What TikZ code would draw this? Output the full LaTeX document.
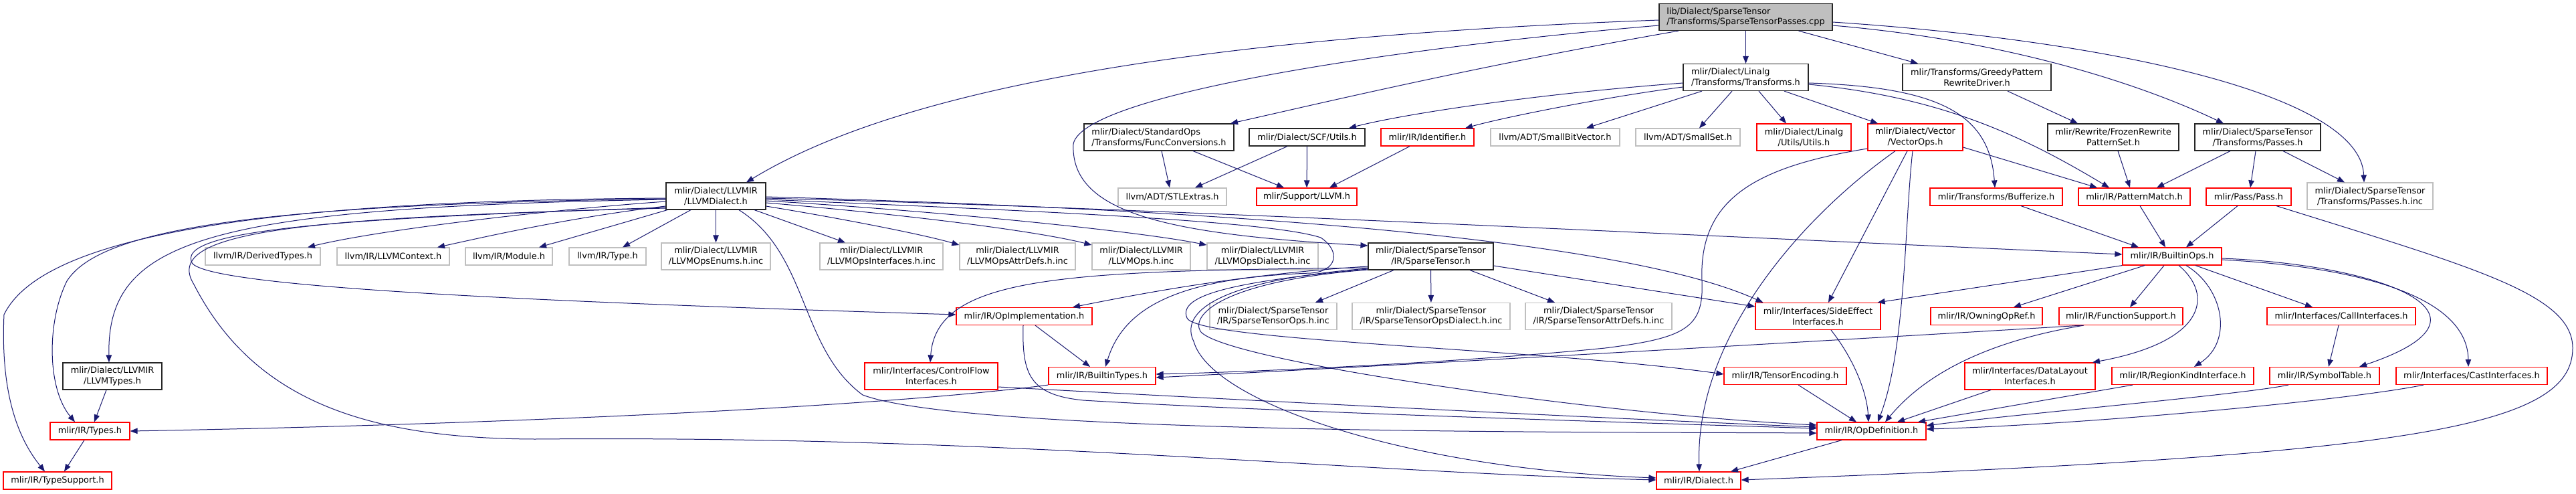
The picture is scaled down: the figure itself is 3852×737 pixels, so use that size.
\documentclass[tikz,border=0pt]{standalone}
\usepackage{fontspec}
\setmainfont{DejaVu Sans}
\usetikzlibrary{arrows.meta}
\definecolor{edgeblue}{HTML}{191970}
\definecolor{boxgray}{HTML}{BFBFBF}
\definecolor{boxred}{HTML}{FF0000}
\newcommand{\gfont}{\fontsize{12.9}{15.7}\selectfont}
\begin{document}
\begin{tikzpicture}[x=1pt,y=-1pt,
 every node/.style={font=\gfont,inner sep=0pt,minimum height=26pt,align=center,line width=1.2pt},
 hblack/.style={draw=black!85},hred/.style={draw=boxred},hgray/.style={draw=boxgray},
 hmain/.style={draw=black!85,fill=boxgray},two/.style={minimum height=40pt},
 inc/.style={-{Triangle[length=11pt,width=8.5pt]},edgeblue,line width=1pt}]
\fill[white] (0,0) rectangle (3852,737);
% files
\node[hmain,two,align=left,minimum width=259pt] (cpp) at (2610.5,25.5) {lib/Dialect/SparseTensor\\/Transforms/SparseTensorPasses.cpp};
\node[hblack,two,align=left,minimum width=187pt] (lintr) at (2610.5,115.5) {mlir/Dialect/Linalg\\/Transforms/Transforms.h};
\node[hblack,two,minimum width=222pt] (greedy) at (2956,115.5) {mlir/Transforms/GreedyPattern\\RewriteDriver.h};
\node[hblack,two,align=left,minimum width=224pt] (fconv) at (1733,205) {mlir/Dialect/StandardOps\\/Transforms/FuncConversions.h};
\node[hblack,minimum width=173pt] (scf) at (1954.5,205) {mlir/Dialect/SCF/Utils.h};
\node[hred,minimum width=139pt] (ident) at (2134.5,205) {mlir/IR/Identifier.h};
\node[hgray,minimum width=193pt] (sbv) at (2325.5,205) {llvm/ADT/SmallBitVector.h};
\node[hgray,minimum width=156pt] (sset) at (2524,205) {llvm/ADT/SmallSet.h};
\node[hred,two,minimum width=141pt] (linut) at (2697.5,205) {mlir/Dialect/Linalg\\/Utils/Utils.h};
\node[hred,two,minimum width=142pt] (vops) at (2864,205) {mlir/Dialect/Vector\\/VectorOps.h};
\node[hblack,two,minimum width=196pt] (frozen) at (3160,205) {mlir/Rewrite/FrozenRewrite\\PatternSet.h};
\node[hblack,two,minimum width=188pt] (spass) at (3376,205) {mlir/Dialect/SparseTensor\\/Transforms/Passes.h};
\node[hblack,two,minimum width=149pt] (llvmd) at (1070.5,293) {mlir/Dialect/LLVMIR\\/LLVMDialect.h};
\node[hgray,minimum width=162pt] (stl) at (1753,294) {llvm/ADT/STLExtras.h};
\node[hred,minimum width=150pt] (supp) at (1954,294) {mlir/Support/LLVM.h};
\node[hred,minimum width=198pt] (buff) at (2985,294) {mlir/Transforms/Bufferize.h};
\node[hred,minimum width=167pt] (patm) at (3191.5,294) {mlir/IR/PatternMatch.h};
\node[hred,minimum width=127pt] (pass) at (3362.5,294) {mlir/Pass/Pass.h};
\node[hgray,two,minimum width=188pt] (passinc) at (3544,293) {mlir/Dialect/SparseTensor\\/Transforms/Passes.h.inc};
\node[hgray,minimum width=172pt] (dtypes) at (393,383) {llvm/IR/DerivedTypes.h};
\node[hgray,minimum width=168pt] (lctx) at (588,383) {llvm/IR/LLVMContext.h};
\node[hgray,minimum width=130pt] (modl) at (761,383) {llvm/IR/Module.h};
\node[hgray,minimum width=115pt] (ltype) at (908.5,383) {llvm/IR/Type.h};
\node[hgray,two,minimum width=163pt] (openums) at (1070.5,383) {mlir/Dialect/LLVMIR\\/LLVMOpsEnums.h.inc};
\node[hgray,two,minimum width=184pt] (opsif) at (1318,383) {mlir/Dialect/LLVMIR\\/LLVMOpsInterfaces.h.inc};
\node[hgray,two,minimum width=173pt] (opsattr) at (1521.5,383) {mlir/Dialect/LLVMIR\\/LLVMOpsAttrDefs.h.inc};
\node[hgray,two,minimum width=147pt] (opsinc) at (1706.5,383) {mlir/Dialect/LLVMIR\\/LLVMOps.h.inc};
\node[hgray,two,minimum width=166pt] (opsdial) at (1888,383) {mlir/Dialect/LLVMIR\\/LLVMOpsDialect.h.inc};
\node[hblack,two,minimum width=187pt] (sptens) at (2139.5,383) {mlir/Dialect/SparseTensor\\/IR/SparseTensor.h};
\node[hred,minimum width=148pt] (bops) at (3248,383) {mlir/IR/BuiltinOps.h};
\node[hred,minimum width=203pt] (opimpl) at (1531.5,472.5) {mlir/IR/OpImplementation.h};
\node[hgray,two,minimum width=190pt] (spops) at (1904,472.5) {mlir/Dialect/SparseTensor\\/IR/SparseTensorOps.h.inc};
\node[hgray,two,minimum width=236pt] (spdial) at (2140,472.5) {mlir/Dialect/SparseTensor\\/IR/SparseTensorOpsDialect.h.inc};
\node[hgray,two,minimum width=219pt] (spattr) at (2390.5,472.5) {mlir/Dialect/SparseTensor\\/IR/SparseTensorAttrDefs.h.inc};
\node[hred,two,minimum width=187pt] (sidefx) at (2718.5,472.5) {mlir/Interfaces/SideEffect\\Interfaces.h};
\node[hred,minimum width=167pt] (owning) at (2970.5,472.5) {mlir/IR/OwningOpRef.h};
\node[hred,minimum width=185pt] (funcsup) at (3171.5,472.5) {mlir/IR/FunctionSupport.h};
\node[hred,minimum width=222pt] (callif) at (3501,472.5) {mlir/Interfaces/CallInterfaces.h};
\node[hblack,two,minimum width=148pt] (llvmty) at (168,562) {mlir/Dialect/LLVMIR\\/LLVMTypes.h};
\node[hred,two,minimum width=199pt] (ctlflow) at (1392.5,562) {mlir/Interfaces/ControlFlow\\Interfaces.h};
\node[hred,minimum width=160pt] (btypes) at (1648,561.5) {mlir/IR/BuiltinTypes.h};
\node[hred,minimum width=183pt] (tenc) at (2669.5,561.5) {mlir/IR/TensorEncoding.h};
\node[hred,two,minimum width=195pt] (dlayout) at (3035.5,562) {mlir/Interfaces/DataLayout\\Interfaces.h};
\node[hred,minimum width=212pt] (regkind) at (3264,561.5) {mlir/IR/RegionKindInterface.h};
\node[hred,minimum width=164pt] (symtab) at (3476,561.5) {mlir/IR/SymbolTable.h};
\node[hred,minimum width=226pt] (castif) at (3696,561.5) {mlir/Interfaces/CastInterfaces.h};
\node[hred,minimum width=119pt] (types) at (134.5,644) {mlir/IR/Types.h};
\node[hred,minimum width=163pt] (opdef) at (2798.5,644) {mlir/IR/OpDefinition.h};
\node[hred,minimum width=162pt] (tysup) at (86,718) {mlir/IR/TypeSupport.h};
\node[hred,minimum width=126pt] (dialect) at (2540,718) {mlir/IR/Dialect.h};
% includes
\draw[inc] ([yshift=-4.5pt]cpp.west) .. controls (1800,55) and (1350,130) .. ([xshift=45.5pt]llvmd.north);
\draw[inc] ([xshift=-100.5pt]cpp.south) .. controls (2200,100) and (1950,160) .. ([xshift=107pt]fconv.north);
\draw[inc] ([yshift=-12.5pt]cpp.west) .. controls (2100,70) and (1620,140) .. (1605,215) .. controls (1600,320) and (1750,350) .. ([yshift=16pt]sptens.west);
\draw[inc] (cpp) -- (lintr);
\draw[inc] ([xshift=79pt]cpp.south) -- ([xshift=-88pt]greedy.north);
\draw[inc] ([yshift=-12.5pt]cpp.east) .. controls (3000,60) and (3200,125) .. ([xshift=-51pt]spass.north);
\draw[inc] ([yshift=-7.5pt]cpp.east) .. controls (3150,60) and (3530,140) .. ([xshift=-9pt]passinc.north);
\draw[inc] ([yshift=-8.5pt]lintr.west) .. controls (2300,140) and (2100,170) .. ([xshift=62.5pt]scf.north);
\draw[inc] ([yshift=-14.5pt]lintr.west) .. controls (2400,145) and (2250,175) .. ([xshift=56.5pt]ident.north);
\draw[inc] ([xshift=-65.5pt]lintr.south) -- ([xshift=46.5pt]sbv.north);
\draw[inc] ([xshift=-20.5pt]lintr.south) -- ([xshift=17pt]sset.north);
\draw[inc] ([xshift=19.5pt]lintr.south) -- ([xshift=-26.5pt]linut.north);
\draw[inc] ([xshift=57.5pt]lintr.south) -- ([xshift=-56pt]vops.north);
\draw[inc] ([yshift=-8.5pt]lintr.east) .. controls (2900,130) and (2975,170) .. ([xshift=-2pt]buff.north);
\draw[inc] ([yshift=-10.5pt]lintr.east) .. controls (2900,145) and (3020,200) .. ([xshift=-37.5pt]patm.north);
\draw[inc] ([xshift=4pt]fconv.south) -- ([xshift=-4pt]stl.north);
\draw[inc] ([xshift=51pt]fconv.south) -- ([xshift=-34pt]supp.north);
\draw[inc] ([xshift=-29.5pt]scf.south) -- ([xshift=34pt]stl.north);
\draw[inc] (scf) -- (supp);
\draw[inc] ([xshift=-26.5pt]ident.south) -- ([xshift=34pt]supp.north);
\draw[inc] ([xshift=46pt]greedy.south) -- ([xshift=-53pt]frozen.north);
\draw[inc] ([xshift=7pt]frozen.south) -- ([xshift=-6.5pt]patm.north);
\draw[inc] ([xshift=-41pt]spass.south) -- ([xshift=33.5pt]patm.north);
\draw[inc] ([xshift=-3pt]spass.south) -- ([xshift=2.5pt]pass.north);
\draw[inc] ([xshift=38pt]spass.south) -- ([xshift=-38pt]passinc.north);
\draw[inc] ([yshift=-15pt]vops.east) -- ([xshift=-55.5pt]patm.north);
\draw[inc] ([xshift=-12pt]vops.south) -- ([xshift=15.5pt]sidefx.north);
\draw[inc] ([xshift=-4pt]vops.south) .. controls (2848,330) and (2850,520) .. ([xshift=9.5pt]opdef.north);
\draw[inc] ([xshift=-30pt]vops.south) .. controls (2700,320) and (2535,500) .. ([xshift=1pt]dialect.north);
\draw[inc] ([yshift=-17pt]vops.west) .. controls (2620,250) and (2540,300) .. (2545,420) .. controls (2548,490) and (2520,505) .. (2400,520) .. controls (2200,540) and (1900,555) .. ([yshift=2.5pt]btypes.east);
\draw[inc] ([xshift=37pt]buff.south) -- ([xshift=-50pt]bops.north);
\draw[inc] ([xshift=8.5pt]patm.south) -- ([xshift=-10pt]bops.north);
\draw[inc] ([xshift=-16.5pt]pass.south) -- ([xshift=21pt]bops.north);
\draw[inc] ([xshift=41.5pt]pass.south) .. controls (3700,400) and (3847,440) .. (3847,520) .. controls (3847,640) and (3600,680) .. ([yshift=1pt]dialect.east);
\draw[inc] (bops.south west) -- ([xshift=-5pt]sidefx.north east);
\draw[inc] ([xshift=-41pt]bops.south) -- ([xshift=40.5pt]owning.north);
\draw[inc] ([xshift=-12pt]bops.south) -- ([xshift=13.5pt]funcsup.north);
\draw[inc] ([xshift=10pt]bops.south) .. controls (3310,440) and (3300,510) .. ([xshift=93.5pt]dlayout.north);
\draw[inc] ([xshift=21pt]bops.south) .. controls (3325,430) and (3340,510) .. ([xshift=17pt]regkind.north);
\draw[inc] ([xshift=35pt]bops.south) -- ([xshift=-43pt]callif.north);
\draw[inc] ([yshift=-3pt]bops.east) .. controls (3560,395) and (3760,470) .. ([xshift=52pt]symtab.north);
\draw[inc] ([yshift=-5pt]bops.east) .. controls (3550,400) and (3690,450) .. ([xshift=-5pt]castif.north);
\draw[inc] ([xshift=-58.5pt]funcsup.south) .. controls (2800,505) and (2200,540) .. ([yshift=-2.5pt]btypes.east);
\draw[inc] ([xshift=-55.5pt]funcsup.south) .. controls (3000,505) and (2890,545) .. ([xshift=20.5pt]opdef.north);
\draw[inc] ([xshift=19.5pt]sidefx.south) .. controls (2775,540) and (2792,590) .. ([xshift=-4.5pt]opdef.north);
\draw[inc] ([xshift=19.5pt]tenc.south) -- ([xshift=-22.5pt]opdef.north);
\draw[inc] ([xshift=-58.5pt]dlayout.south) -- ([xshift=38.5pt]opdef.north);
\draw[inc] ([xshift=-75pt]regkind.south) -- ([xshift=69.5pt]opdef.north);
\draw[inc] ([xshift=-54pt]symtab.south) .. controls (3350,590) and (3000,620) .. ([yshift=8pt]opdef.east);
\draw[inc] ([xshift=-72pt]castif.south) .. controls (3500,600) and (3100,635) .. ([yshift=3pt]opdef.east);
\draw[inc] ([xshift=-4pt]callif.south) -- ([xshift=6pt]symtab.north);
\draw[inc] ([xshift=-44.5pt]opdef.south) -- ([xshift=48pt]dialect.north);
\draw[inc] ([xshift=16.5pt]opimpl.south) -- ([xshift=-18pt]btypes.north);
\draw[inc] ([xshift=-1.5pt]opimpl.south) .. controls (1528,560) and (1540,590) .. (1620,598) .. controls (1900,615) and (2400,630) .. ([yshift=4pt]opdef.west);
\draw[inc] (btypes.south west) .. controls (1300,610) and (700,635) .. (types.east);
\draw[inc] ([xshift=-8.5pt]types.south) -- ([xshift=10pt]tysup.north);
\draw[inc] ([xshift=-9pt]llvmty.south) -- ([xshift=6.5pt]types.north);
\draw[inc] ([yshift=-16pt]ctlflow.east) .. controls (1900,600) and (2400,625) .. ([yshift=6pt]opdef.west);
\draw[inc] ([yshift=-8pt]llvmd.west) .. controls (800,315) and (560,345) .. ([xshift=67pt]dtypes.north);
\draw[inc] ([yshift=-15pt]llvmd.west) .. controls (850,325) and (720,355) .. ([xshift=66pt]lctx.north);
\draw[inc] ([xshift=-72.5pt]llvmd.south) -- ([xshift=45pt]modl.north);
\draw[inc] ([xshift=-37.5pt]llvmd.south) -- ([xshift=22.5pt]ltype.north);
\draw[inc] (llvmd) -- (openums);
\draw[inc] ([xshift=57.5pt]llvmd.south) -- ([xshift=-54pt]opsif.north);
\draw[inc] ([yshift=-15pt]llvmd.east) .. controls (1250,325) and (1380,350) .. ([yshift=17pt]opsattr.west);
\draw[inc] ([yshift=-10pt]llvmd.east) .. controls (1350,320) and (1550,345) .. ([yshift=17pt]opsinc.west);
\draw[inc] ([yshift=-7pt]llvmd.east) .. controls (1400,315) and (1700,345) .. ([yshift=17pt]opsdial.west);
\draw[inc] ([yshift=-5pt]llvmd.west) .. controls (300,310) and (160,360) .. ([xshift=-5pt]llvmty.north);
\draw[inc] ([yshift=-4pt]llvmd.west) .. controls (400,305) and (150,340) .. (100,420) .. controls (70,480) and (70,580) .. ([xshift=-22.5pt]types.north);
\draw[inc] ([yshift=-3pt]llvmd.west) .. controls (350,300) and (60,360) .. (6,470) .. controls (2,560) and (15,640) .. ([xshift=-19pt]tysup.north);
\draw[inc] ([yshift=-17pt]llvmd.west) .. controls (550,325) and (270,340) .. (286,390) .. controls (288,425) and (700,448) .. ([yshift=2.5pt]opimpl.west);
\draw[inc] ([yshift=-18pt]llvmd.west) .. controls (450,325) and (240,345) .. (290,425) .. controls (380,600) and (550,655) .. (800,656) .. controls (1500,650) and (2000,705) .. ([yshift=1pt]dialect.west);
\draw[inc] ([xshift=34.5pt]llvmd.south) .. controls (1210,380) and (1195,520) .. (1290,590) .. controls (1450,650) and (2400,645) .. ([yshift=-3pt]opdef.west);
\draw[inc] ([yshift=-3pt]llvmd.east) .. controls (1700,310) and (2600,355) .. ([yshift=3pt]bops.west);
\draw[inc] ([yshift=-1pt]llvmd.east) .. controls (1700,310) and (2400,345) .. ([xshift=12pt]sidefx.north west);
\draw[inc] ([yshift=-5pt]llvmd.east) .. controls (1550,315) and (1900,330) .. (1975,355) .. controls (2005,375) and (2000,405) .. (1960,408) .. controls (1760,415) and (1680,460) .. ([xshift=5pt]btypes.north);
\draw[inc] ([xshift=-55.5pt]sptens.south) -- ([xshift=63pt]spops.north);
\draw[inc] (sptens) -- (spdial);
\draw[inc] ([xshift=58.5pt]sptens.south) -- ([xshift=-65.5pt]spattr.north);
\draw[inc] ([yshift=-14pt]sptens.east) -- ([yshift=14.5pt]sidefx.west);
\draw[inc] ([yshift=-15pt]sptens.west) .. controls (1850,410) and (1700,440) .. ([xshift=72.5pt]opimpl.north);
\draw[inc] ([yshift=-17pt]sptens.west) .. controls (1600,405) and (1400,410) .. ([xshift=-1.5pt]ctlflow.north);
\draw[inc] ([yshift=-19pt]sptens.west) .. controls (1850,420) and (1760,440) .. (1775,475) .. controls (1790,510) and (2300,520) .. ([yshift=2.5pt]tenc.west);
\draw[inc] ([yshift=-20pt]sptens.west) .. controls (1830,420) and (1780,470) .. (1795,495) .. controls (1830,540) and (2400,620) .. ([yshift=9pt]opdef.west);
\draw[inc] ([yshift=-18pt]sptens.west) .. controls (1810,420) and (1765,470) .. (1785,510) .. controls (1810,600) and (2100,700) .. ([yshift=4pt]dialect.west);
\end{tikzpicture}
\end{document}
